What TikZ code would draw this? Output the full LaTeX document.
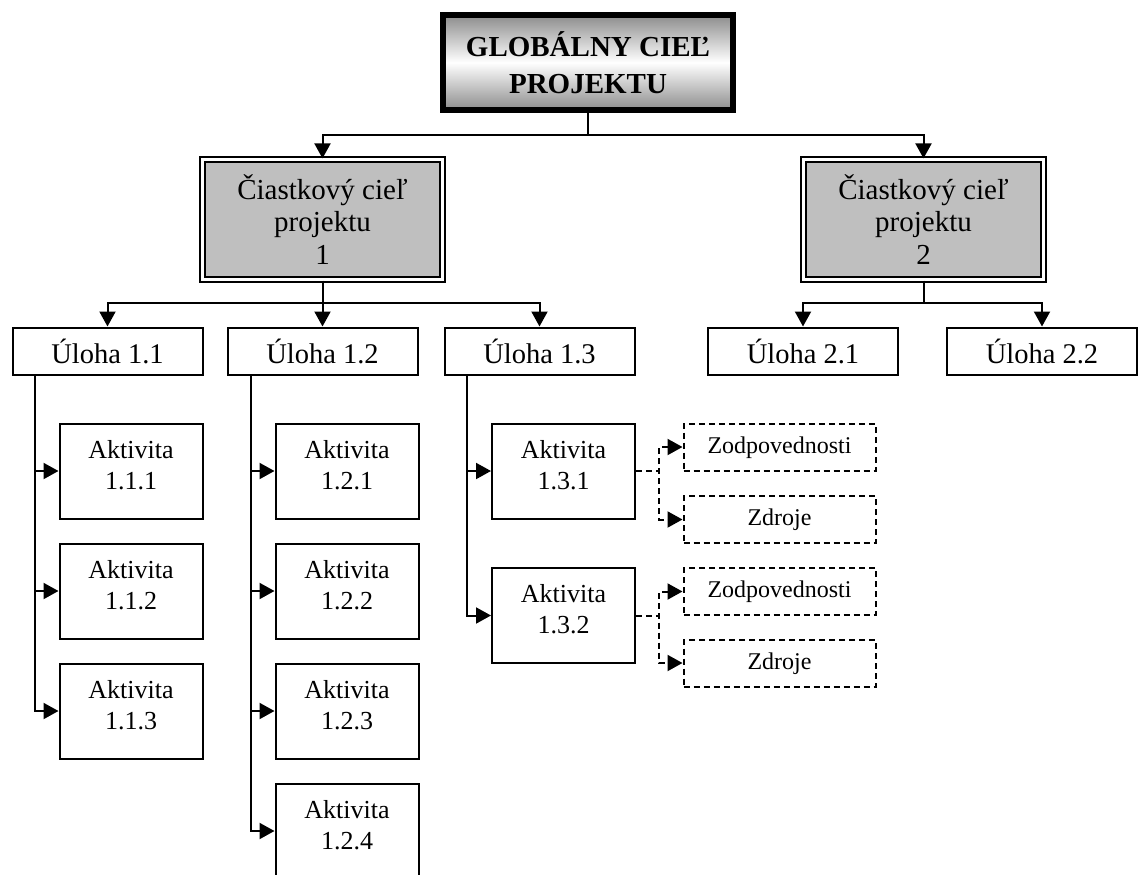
\documentclass[tikz,border=0pt]{standalone}
\usepackage{fontspec}
\setmainfont{Liberation Serif}
\usetikzlibrary{arrows.meta}
\newcommand\actdepth{\rule[-13pt]{0pt}{13pt}}
\begin{document}
\begin{tikzpicture}[x=1pt,y=-1pt,
  conn/.style={line width=2pt,-{Triangle[length=15pt,width=16pt]}},
  plain/.style={line width=2pt},
  dconn/.style={line width=2pt,dash pattern=on 6pt off 4pt,-{Triangle[length=15pt,width=16pt]}},
  goalbox/.style={draw=black,line width=6pt,minimum width=290pt,minimum height=95pt,inner sep=0pt,
    top color=black!45,bottom color=black!45,middle color=white,align=center,
    font=\bfseries\fontsize{29}{37}\selectfont},
  subbox/.style={draw=black,line width=2.2pt,double=white,double distance=3pt,fill=black!25,
    minimum width=240pt,minimum height=120pt,inner sep=0pt,align=center,
    font=\fontsize{29}{32.5}\selectfont},
  taskbox/.style={draw,line width=2pt,minimum width=190pt,minimum height=47pt,inner sep=0pt,
    text height=24pt,text depth=0pt,font=\fontsize{28.5}{34}\selectfont},
  actbox/.style={draw,line width=2pt,minimum width=143pt,minimum height=95pt,inner sep=0pt,
    align=center,font=\fontsize{26}{31}\selectfont},
  resbox/.style={draw,line width=2pt,dash pattern=on 6pt off 4pt,minimum width=192pt,minimum height=47pt,
    inner sep=0pt,text height=18pt,text depth=6pt,font=\fontsize{24}{28}\selectfont}
]
\useasboundingbox (0,0) rectangle (1138,875);

% top goal
\node[goalbox] (g) at (588,62.5) {GLOBÁLNY CIEĽ\\PROJEKTU};

% partial goals
\node[subbox] (s1) at (322.5,219.5) {Čiastkový cieľ\\projektu\\1};
\node[subbox] (s2) at (923.5,219.5) {Čiastkový cieľ\\projektu\\2};

% tasks
\node[taskbox] (u11) at (107.5,351) {Úloha 1.1};
\node[taskbox] (u12) at (322.5,351) {Úloha 1.2};
\node[taskbox] (u13) at (539.5,351) {Úloha 1.3};
\node[taskbox] (u21) at (803,351) {Úloha 2.1};
\node[taskbox] (u22) at (1042,351) {Úloha 2.2};

% activities
\node[actbox] (a111) at (131,471) {Aktivita\\1.1.1\actdepth};
\node[actbox] (a112) at (131,591) {Aktivita\\1.1.2\actdepth};
\node[actbox] (a113) at (131,711) {Aktivita\\1.1.3\actdepth};
\node[actbox] (a121) at (347,471) {Aktivita\\1.2.1\actdepth};
\node[actbox] (a122) at (347,591) {Aktivita\\1.2.2\actdepth};
\node[actbox] (a123) at (347,711) {Aktivita\\1.2.3\actdepth};
\node[actbox] (a124) at (347,831) {Aktivita\\1.2.4\actdepth};
\node[actbox] (a131) at (563.5,471) {Aktivita\\1.3.1\actdepth};
\node[actbox] (a132) at (563.5,615.5) {Aktivita\\1.3.2\actdepth};

% responsibilities and resources
\node[resbox] (z1) at (779.5,447) {Zodpovednosti};
\node[resbox] (r1) at (779.5,519.5) {Zdroje};
\node[resbox] (z2) at (779.5,591.5) {Zodpovednosti};
\node[resbox] (r2) at (779.5,663) {Zdroje};

% goal -> partial goals
\draw[plain] (g.south) -- (588,135) coordinate (j0);
\draw[conn] (j0) -| (s1.north);
\draw[conn] (j0) -| (s2.north);

% partial goals -> tasks
\draw[plain] (s1.south) -- (322.5,303) coordinate (j1);
\draw[conn] (j1) -| (u11.north);
\draw[conn] (j1) -- (u12.north);
\draw[conn] (j1) -| (u13.north);
\draw[plain] (s2.south) -- (923.5,303) coordinate (j2);
\draw[conn] (j2) -| (u21.north);
\draw[conn] (j2) -| (u22.north);

% tasks -> activities
\coordinate (t11) at (35,375);
\coordinate (t12) at (251,375);
\coordinate (t13) at (467,375);
\foreach \a in {a111,a112,a113} \draw[conn] (t11) |- (\a.west);
\foreach \a in {a121,a122,a123,a124} \draw[conn] (t12) |- (\a.west);
\foreach \a in {a131,a132} \draw[conn] (t13) |- (\a.west);

% activities -> responsibilities / resources
\draw[dconn] (a131.east) -- (659,471) |- (z1.west);
\draw[dconn] (a131.east) -- (659,471) |- (r1.west);
\draw[dconn] (a132.east) -- (659,615.5) |- (z2.west);
\draw[dconn] (a132.east) -- (659,615.5) |- (r2.west);
\end{tikzpicture}
\end{document}
